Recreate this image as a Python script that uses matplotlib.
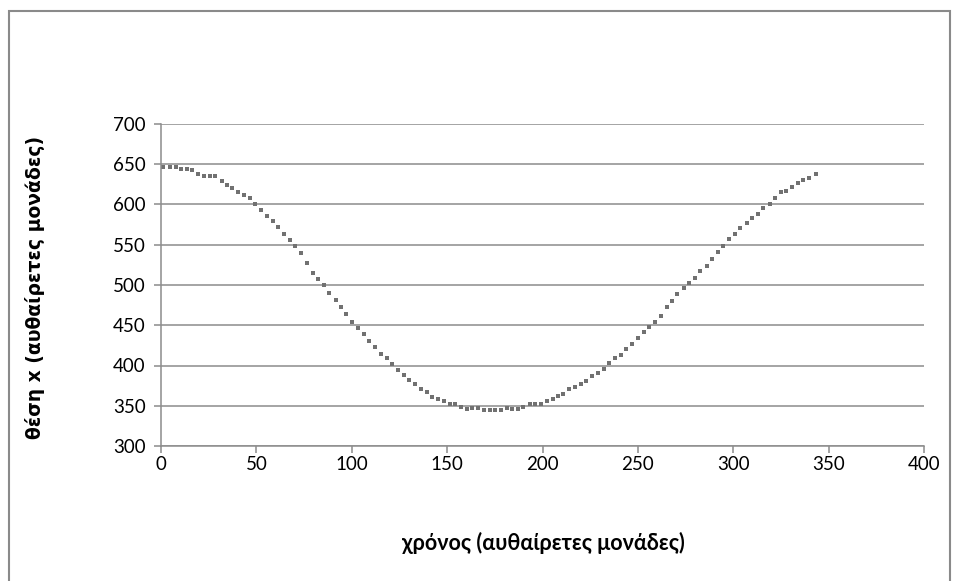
import matplotlib
matplotlib.use("Agg")
import matplotlib.pyplot as plt
from matplotlib.patches import Rectangle

# time (arbitrary units) and position x (arbitrary units)
time_vals = [
    1.2, 4.7, 7.7, 10.5, 13.6, 16.4, 19.6, 22.5, 25.5, 28.5,
    31.8, 34.6, 37.4, 40.5, 43.4, 46.7, 49.3, 52.6, 55.4, 58.7,
    61.5, 64.6, 67.5, 70.2, 73.4, 76.4, 79.5, 82.3, 85.6, 88.2,
    91.7, 94.4, 97.1, 100.3, 103.1, 106.4, 109.2, 112.3, 115.2, 118.6,
    121.3, 124.1, 127.2, 130.2, 133.3, 136.1, 139.5, 142.1, 145.4, 148.2,
    151.5, 154.3, 157.1, 160.3, 163.0, 166.3, 169.2, 172.3, 175.1, 178.2,
    181.2, 184.2, 187.2, 189.9, 193.3, 196.2, 199.1, 202.2, 205.3, 208.0,
    210.7, 214.1, 216.9, 220.2, 223.0, 226.1, 229.0, 232.2, 235.0, 238.2,
    241.0, 243.8, 247.1, 249.9, 253.1, 255.8, 259.1, 262.0, 265.3, 267.9,
    270.7, 274.0, 276.8, 280.1, 282.7, 286.1, 288.7, 292.2, 294.8, 297.6,
    301.1, 303.6, 307.1, 309.7, 313.0, 315.8, 319.1, 321.8, 325.0, 327.8,
    330.7, 333.8, 336.6, 339.9, 343.5,
]
position_vals = [
    647.0, 647.0, 647.0, 644.6, 644.6, 642.7, 638.5, 635.4, 635.4, 634.9,
    629.3, 624.4, 621.0, 615.0, 611.7, 608.0, 600.0, 592.8, 586.2, 580.0,
    571.9, 563.6, 556.5, 548.0, 540.0, 527.6, 515.4, 507.5, 500.0, 489.7,
    481.4, 472.4, 464.0, 454.5, 447.0, 438.8, 430.5, 422.7, 414.8, 409.3,
    401.7, 394.3, 388.0, 381.9, 376.9, 371.0, 366.6, 361.2, 358.3, 355.5,
    352.1, 352.1, 348.0, 345.9, 347.5, 347.5, 344.3, 344.3, 344.3, 344.3,
    347.1, 345.9, 345.9, 348.0, 351.7, 351.7, 351.7, 355.8, 358.7, 362.0,
    364.4, 370.2, 372.7, 377.3, 380.5, 386.4, 390.1, 395.9, 402.9, 409.9,
    413.6, 419.9, 426.9, 434.4, 441.3, 447.5, 454.2, 461.7, 472.8, 480.6,
    488.3, 496.5, 502.4, 508.9, 517.2, 523.4, 532.9, 540.8, 548.6, 557.0,
    563.5, 571.3, 577.5, 583.7, 588.7, 595.4, 600.4, 607.8, 615.3, 617.2,
    622.2, 626.8, 630.1, 633.4, 637.5,
]

x_ticks = [0, 50, 100, 150, 200, 250, 300, 350, 400]
y_ticks = [300, 350, 400, 450, 500, 550, 600, 650, 700]

x_title = "χρόνος (αυθαίρετες μονάδες)"
y_title = "θέση x (αυθαίρετες μονάδες)"

plt.rcParams["font.family"] = ["Lato", "DejaVu Sans"]

fig = plt.figure(figsize=(9.58, 5.81), dpi=100)
fig.patch.set_facecolor("white")

# outer chart frame
fig.patches.append(Rectangle((9 / 958, -0.05), 941 / 958, 1 - 11 / 581 + 0.05,
                             transform=fig.transFigure, fill=False,
                             edgecolor="#8a8a8a", linewidth=1.5))

ax = fig.add_axes([161 / 958, 1 - 446 / 581, (924 - 161) / 958, (446 - 124) / 581])

# flat rectangular marker, wider than tall
flat_box = [(-1.0, -0.75), (1.0, -0.75), (1.0, 0.75), (-1.0, 0.75), (-1.0, -0.75)]
ax.plot(time_vals, position_vals, linestyle="none", marker=flat_box,
        markersize=3.3, color="#717171", markeredgewidth=0, clip_on=False)

ax.set_xlim(0, 400)
ax.set_ylim(300, 700)
ax.set_xticks(x_ticks)
ax.set_yticks(y_ticks)

ax.grid(axis="y", color="#8c8c8c", linewidth=1.1)
ax.set_axisbelow(True)
for side in ("top", "right"):
    ax.spines[side].set_visible(False)
for side in ("left", "bottom"):
    ax.spines[side].set_color("#8c8c8c")
    ax.spines[side].set_linewidth(1.1)

ax.tick_params(axis="both", colors="#8c8c8c", length=5, width=1.1,
               labelsize=13.5, labelcolor="black")
ax.tick_params(axis="x", pad=2)
ax.tick_params(axis="y", pad=6)

fig.text(543 / 958, 1 - 543 / 581, x_title, ha="center", va="center",
         fontsize=15.5, fontweight="bold")
fig.text(35 / 958, 1 - 287 / 581, y_title, ha="center", va="center",
         rotation=90, fontsize=13.5, fontweight="bold",
         family=["DejaVu Sans"])

fig.savefig("out.png", dpi=100)
